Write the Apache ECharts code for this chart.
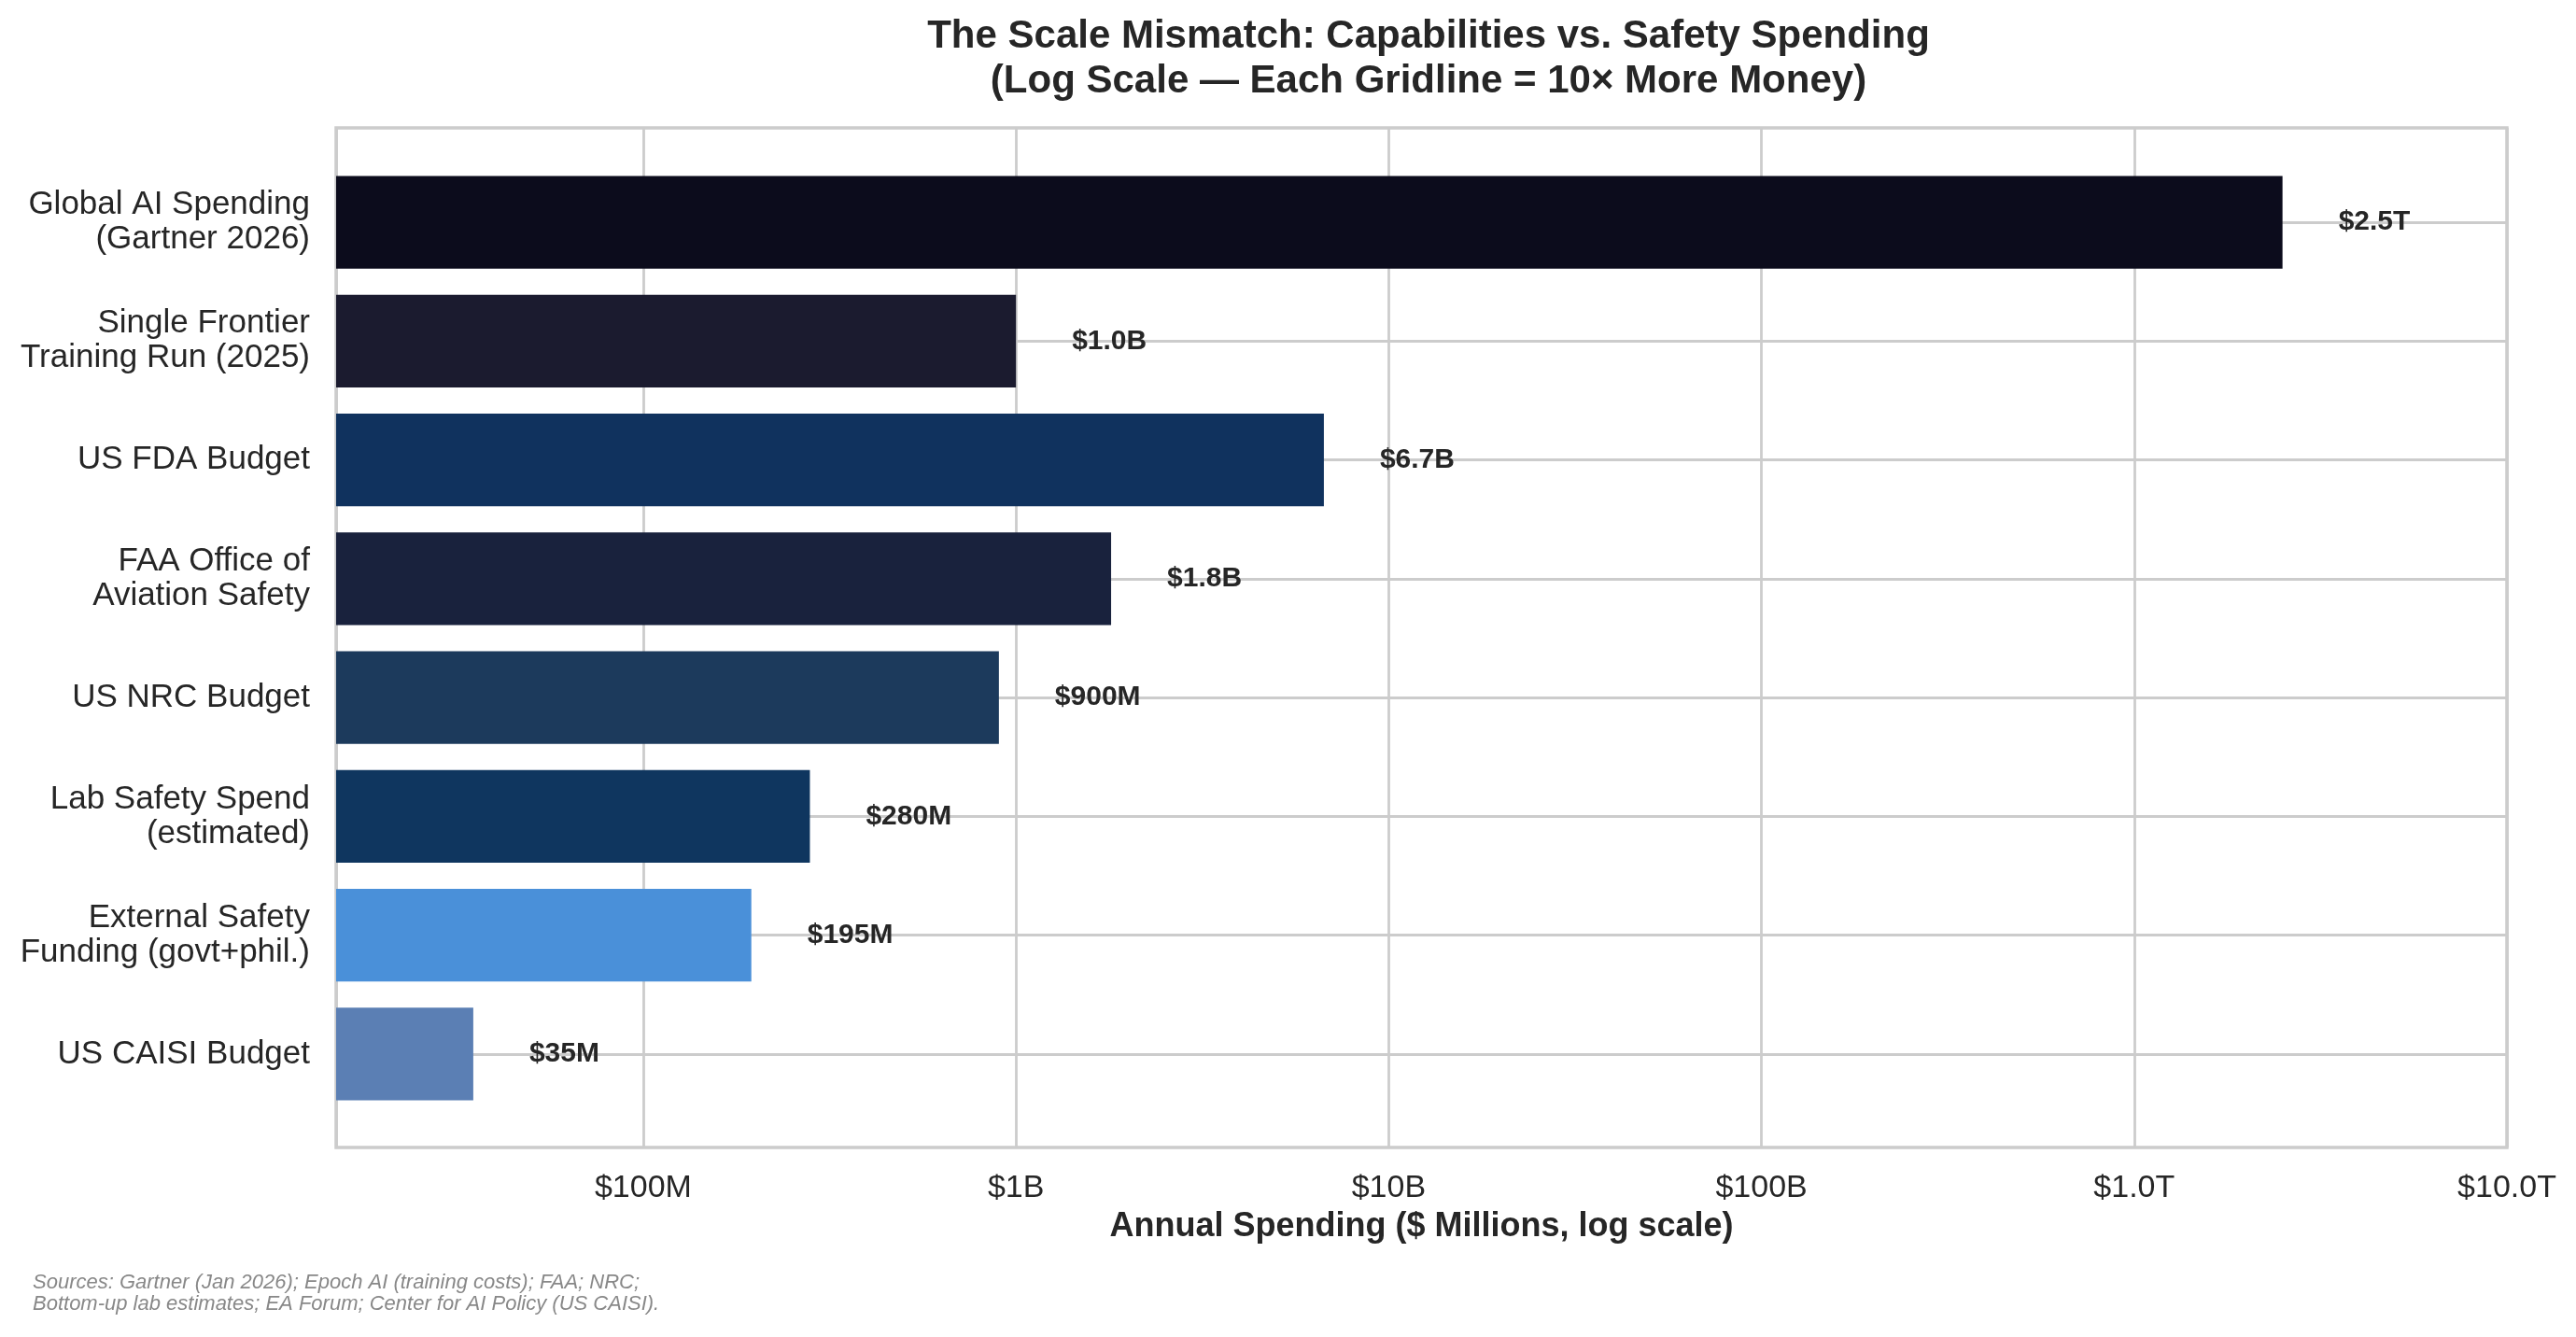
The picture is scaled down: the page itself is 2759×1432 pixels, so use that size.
<!DOCTYPE html>
<html>
<head>
<meta charset="utf-8">
<title>The Scale Mismatch</title>
<script src="https://cdn.jsdelivr.net/npm/echarts@6/dist/echarts.min.js"></script>
<style>
  html, body { margin: 0; padding: 0; background: #fff; }
  #main { width: 2759px; height: 1432px; }
</style>
</head>
<body>
<div id="main"></div>
<script>
// data, top to bottom (values in $ millions)
var categories = [
  'Global AI Spending\n(Gartner 2026)',
  'Single Frontier\nTraining Run (2025)',
  'US FDA Budget',
  'FAA Office of\nAviation Safety',
  'US NRC Budget',
  'Lab Safety Spend\n(estimated)',
  'External Safety\nFunding (govt+phil.)',
  'US CAISI Budget'
];
var spending = [2500000, 1000, 6700, 1800, 900, 280, 195, 35];
var valueLabels = ['$2.5T', '$1.0B', '$6.7B', '$1.8B', '$900M', '$280M', '$195M', '$35M'];
var barColors = ['#0c0c1c', '#1b1b2f', '#10325e', '#19223d', '#1c3a5c', '#0f365f', '#4a90d9', '#5b7fb4'];
var tickValues = [100, 1000, 10000, 100000, 1000000, 10000000];
var tickLabels = ['$100M', '$1B', '$10B', '$100B', '$1.0T', '$10.0T'];

var FONT = "'Liberation Sans', Arial, sans-serif";
var TXT = '#262626';
var GRID = '#cccccc';
var XMIN = 15, XMAX = 10000000;

var chart = echarts.init(document.getElementById('main'));

function tickLabel(v) {
  for (var i = 0; i < tickValues.length; i++) {
    if (Math.abs(Math.log10(v) - Math.log10(tickValues[i])) < 1e-6) return tickLabels[i];
  }
  return '';
}

var option = {
  backgroundColor: '#ffffff',
  animation: false,
  textStyle: { fontFamily: FONT },
  title: {
    text: 'The Scale Mismatch: Capabilities vs. Safety Spending\n(Log Scale \u2014 Each Gridline = 10\u00d7 More Money)',
    left: 1525,
    top: 10,
    textAlign: 'center',
    textStyle: { fontFamily: FONT, fontSize: 42, fontWeight: 'bold', color: TXT, lineHeight: 48 }
  },
  grid: [
    // frame + vertical gridlines
    { left: 360, right: 74, top: 137, bottom: 203, show: true, borderColor: GRID, borderWidth: 3.5, backgroundColor: 'transparent' },
    // bars: 8 bands
    { left: 360, right: 74, top: 174.4, bottom: 239.4 },
    // labels + horizontal gridlines at band centres
    { left: 360, right: 74, top: 238, bottom: 303 }
  ],
  xAxis: [
    {
      type: 'log', gridIndex: 0, min: XMIN, max: XMAX,
      axisLine: { show: false }, axisTick: { show: false },
      splitLine: { show: true, lineStyle: { color: GRID, width: 2.8 } },
      axisLabel: { showMinLabel: false, margin: 27, fontSize: 34, color: TXT, fontFamily: FONT, formatter: tickLabel },
      name: 'Annual Spending ($ Millions, log scale)',
      nameLocation: 'middle', nameGap: 67,
      nameTextStyle: { fontSize: 36, fontWeight: 'bold', color: TXT, fontFamily: FONT }
    },
    { type: 'log', gridIndex: 1, min: XMIN, max: XMAX, show: false, splitLine: { show: false } },
    { type: 'log', gridIndex: 2, min: XMIN, max: XMAX, show: false, splitLine: { show: false } }
  ],
  yAxis: [
    { type: 'value', gridIndex: 0, min: 0, max: 1, show: false, splitLine: { show: false } },
    { type: 'category', gridIndex: 1, data: categories, inverse: true, show: false, splitLine: { show: false } },
    {
      type: 'category', gridIndex: 2, data: categories, inverse: true, boundaryGap: false,
      axisLine: { show: false }, axisTick: { show: false },
      splitLine: { show: true, lineStyle: { color: GRID, width: 2.8 } },
      axisLabel: { margin: 28, fontSize: 35, lineHeight: 37, color: TXT, fontFamily: FONT, align: 'right', padding: [4, 0, 0, 0] }
    }
  ],
  series: [{
    type: 'bar',
    xAxisIndex: 1,
    yAxisIndex: 1,
    clip: true,
    barWidth: '78%',
    data: spending.map(function (v, i) {
      return { value: v, itemStyle: { color: barColors[i] } };
    }),
    label: {
      show: true,
      position: 'right',
      distance: 60,
      fontSize: 30,
      fontWeight: 'bold',
      color: TXT,
      fontFamily: FONT,
      padding: [2, 0, 0, 0],
      formatter: function (p) { return valueLabels[p.dataIndex]; }
    }
  }],
  graphic: [{
    type: 'text',
    left: 35,
    top: 1362,
    style: {
      text: 'Sources: Gartner (Jan 2026); Epoch AI (training costs); FAA; NRC;\nBottom-up lab estimates; EA Forum; Center for AI Policy (US CAISI).',
      font: 'italic 22px ' + FONT,
      fill: '#888888',
      lineHeight: 23
    }
  }]
};

chart.setOption(option);
</script>
</body>
</html>
